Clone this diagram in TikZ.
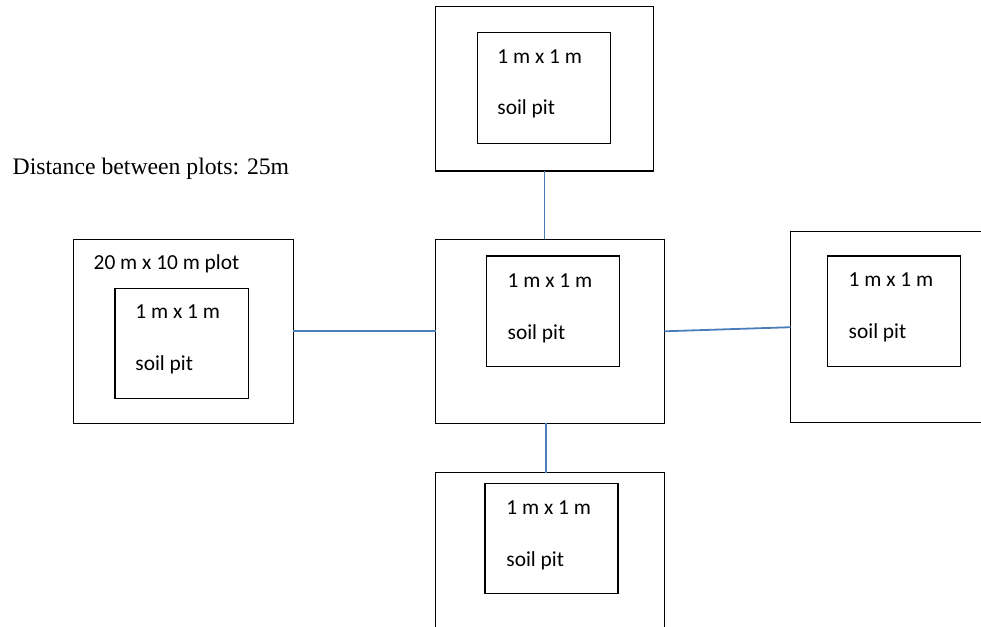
\documentclass[tikz,border=0pt]{standalone}
\usepackage{fontspec}
\setmainfont{Liberation Serif}
\newfontfamily\calibrifont{Carlito}
\usetikzlibrary{calc}
\definecolor{linkblue}{RGB}{74,126,187}
\begin{document}
\begin{tikzpicture}[x=0.5pt,y=-0.5pt,
  plotbox/.style={draw, line width=0.7pt, inner sep=0pt, outer sep=0pt},
  lbl/.style={anchor=base west, inner sep=0pt, font=\calibrifont\fontsize{10.7}{13}\selectfont},
  link/.style={draw=linkblue, line width=0.9pt}]
\path[use as bounding box] (0,0) rectangle (981,627);
\clip (0,0) rectangle (981,627);
% outer plots
\node[plotbox, minimum width=108.8pt, minimum height=82.15pt] (topout) at (544.5,88.85) {};
\node[plotbox, minimum width=114.3pt, minimum height=92pt] (cenout) at (550,331.3) {};
\node[plotbox, minimum width=110pt, minimum height=92pt] (leftout) at (183.3,331.3) {};
\node[plotbox, minimum width=114.3pt, minimum height=95.5pt] (rightout) at (905,327.2) {};
\node[plotbox, minimum width=114.3pt, minimum height=92pt] (botout) at (550,564.7) {};
% inner pits
\node[plotbox, minimum width=66.7pt, minimum height=55.3pt] (topin) at (544,88) {};
\node[plotbox, minimum width=66.5pt, minimum height=55.35pt] (cenin) at (553.2,311.35) {};
\node[plotbox, minimum width=66.65pt, minimum height=55pt] (leftin) at (181.65,343.3) {};
\node[plotbox, minimum width=66.7pt, minimum height=55.35pt] (rightin) at (894,311.35) {};
\node[plotbox, minimum width=66.5pt, minimum height=55.2pt] (botin) at (551.5,538.5) {};
% labels
\node[lbl] (t1) at (497,63.3) {1 m x 1 m};
\node[lbl] (t2) at (497,114.5) {soil pit};
\node[lbl] (c1) at (507.3,287.3) {1 m x 1 m};
\node[lbl] (c2) at (507.3,339.3) {soil pit};
\node[lbl] (lp) at (93.3,269.3) {20 m x 10 m plot};
\node[lbl] (l1) at (135,318.3) {1 m x 1 m};
\node[lbl] (l2) at (135,370) {soil pit};
\node[lbl] (r1) at (848.3,286.7) {1 m x 1 m};
\node[lbl] (r2) at (848.3,338.3) {soil pit};
\node[lbl] (b1) at (506,514) {1 m x 1 m};
\node[lbl] (b2) at (506,566.7) {soil pit};
\node[anchor=base west, inner sep=0pt, font=\fontsize{11.85}{14}\selectfont] (dist) at (12.3,174.3) {Distance between plots: 25m};
% connectors
\draw[link] (topout.south) -- (topout.south |- cenout.north);
\draw[link] (leftout.east) -- (cenout.west);
\draw[link] (cenout.east) -- (rightout.west);
\coordinate (bs) at ($(cenout.south)+(-4,0)$);
\draw[link] (bs) -- (bs |- botout.north);
\end{tikzpicture}
\end{document}
